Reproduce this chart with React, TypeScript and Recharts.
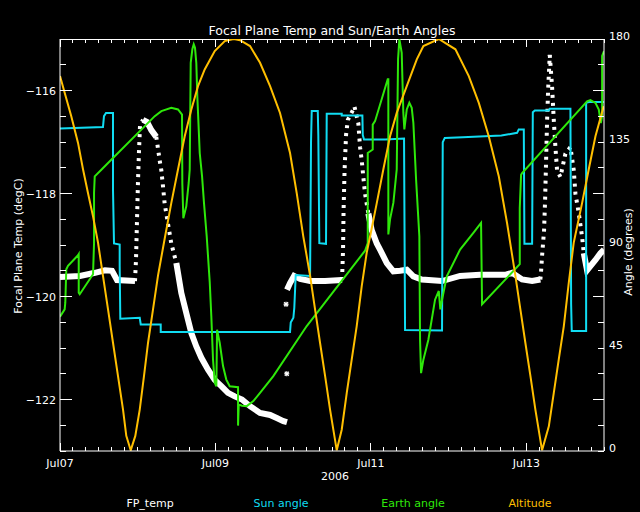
import { ComposedChart, Line, ReferenceLine, XAxis, YAxis } from "recharts";

type Pt = [number, number];

// time axis: days since Jul 07 2006 00:00
const dayLabels = ["Jul07", "Jul09", "Jul11", "Jul13"];
const timeTicks = Array.from({ length: 43 }, (_, i) => i / 6);
const tempTicks = Array.from({ length: 17 }, (_, i) => -123 + i * 0.5);
const angleTicks = Array.from({ length: 17 }, (_, i) => i * 11.25);

// FP_temp (degC) - dense parts drawn as a thick band, fast parts dotted
const fpSlow: Pt[][] = [
  [[0, -119.62], [0.257, -119.6], [0.45, -119.54], [0.579, -119.49], [0.669, -119.5], [0.734, -119.68], [0.965, -119.7]],
  [[1.068, -116.57], [1.12, -116.61], [1.175, -116.77], [1.239, -116.9]],
  [[1.497, -119.35], [1.561, -119.93], [1.625, -120.32], [1.69, -120.71], [1.754, -120.97], [1.819, -121.19], [1.905, -121.42], [1.991, -121.62], [2.076, -121.74], [2.162, -121.87], [2.248, -121.94], [2.342, -122.0], [2.445, -122.13], [2.574, -122.26], [2.703, -122.3], [2.789, -122.36], [2.874, -122.42], [2.921, -122.44]],
  [[2.921, -119.87], [2.96, -119.74], [3.012, -119.6], [3.089, -119.66], [3.218, -119.7], [3.411, -119.7], [3.629, -119.68]],
  [[3.968, -118.39], [4.011, -118.71], [4.076, -118.97], [4.118, -119.09], [4.205, -119.35], [4.29, -119.51], [4.376, -119.5], [4.462, -119.48], [4.547, -119.61], [4.655, -119.67], [4.916, -119.7], [5.148, -119.6], [5.405, -119.58], [5.727, -119.58], [5.817, -119.54], [5.946, -119.67], [6.075, -119.7], [6.181, -119.67]],
  [[6.74, -119.16], [6.782, -119.49], [6.825, -119.41], [6.89, -119.29], [6.954, -119.16], [7, -119.09]],
];

const fpFast: Pt[][] = [
  [[0.965, -119.7], [0.978, -119.29], [0.991, -118.51], [1.004, -117.74], [1.017, -117.16], [1.03, -116.67], [1.068, -116.57]],
  [[1.239, -116.9], [1.283, -117.36], [1.304, -117.55], [1.326, -117.87], [1.347, -118.2], [1.39, -118.59], [1.432, -118.97], [1.497, -119.35]],
  [[3.629, -119.68], [3.642, -119.1], [3.649, -118.32], [3.662, -117.54], [3.681, -116.86], [3.704, -116.57], [3.79, -116.32]],
  [[3.79, -116.32], [3.839, -116.64], [3.861, -117.1], [3.883, -117.36], [3.903, -117.68], [3.925, -118.0], [3.968, -118.39]],
  [[6.181, -119.67], [6.19, -119.52], [6.203, -119.21], [6.229, -118.71], [6.242, -118.13], [6.255, -117.35], [6.268, -116.57], [6.281, -115.99], [6.302, -115.31]],
  [[6.302, -115.31], [6.332, -115.93], [6.354, -116.58], [6.375, -117.1], [6.396, -117.55], [6.439, -117.68], [6.503, -117.23], [6.568, -117.1], [6.611, -117.55], [6.632, -118.0], [6.676, -118.39], [6.718, -118.84], [6.74, -119.16]],
];

const fpStray: Pt[] = [[2.909, -120.15], [2.918, -121.5]];

// Sun angle (deg)
const sunAngle: Pt[] = [
  [0, 140.9], [0.553, 141.5], [0.566, 146.3], [0.592, 147.7], [0.682, 147.7], [0.682, 113.9], [0.695, 90.7],
  [0.768, 90.2], [0.768, 81.0], [0.776, 57.8], [1.026, 58.2], [1.039, 55.3], [1.296, 55.3], [1.296, 52.0],
  [2.96, 52.0], [2.969, 56.1], [3.003, 58.2], [3.015, 62.6], [3.033, 76.9], [3.218, 76.5], [3.23, 134.9],
  [3.239, 148.5], [3.317, 148.5], [3.324, 138.0], [3.337, 90.8], [3.423, 90.5], [3.432, 147.3], [3.625, 147.3],
  [3.625, 146.6], [3.891, 146.6], [3.896, 138.0], [3.912, 136.1], [4.183, 136.1], [4.427, 136.5], [4.44, 52.9],
  [4.916, 52.7], [4.925, 134.9], [4.951, 136.8], [5.183, 137.1], [5.68, 137.8], [5.882, 139.0], [5.903, 140.5],
  [5.968, 140.5], [5.976, 90.5], [6.075, 90.5], [6.084, 148.0], [6.11, 148.8], [6.29, 148.8], [6.302, 149.5],
  [6.568, 149.5], [6.577, 64.1], [6.585, 52.4], [6.77, 52.4], [6.77, 152.1], [6.804, 152.5], [7, 152.5],
];

// Earth angle (deg)
const earthAngle: Pt[] = [
  [0, 58.7], [0.06, 61.9], [0.068, 64.8], [0.081, 79.4], [0.103, 80.9], [0.232, 85.5], [0.241, 86.0], [0.241, 69.2],
  [0.254, 68.5], [0.425, 77.2], [0.438, 90.8], [0.438, 112.7], [0.447, 120.0], [0.532, 122.9], [0.618, 125.8],
  [1.219, 146.3], [1.304, 148.5], [1.432, 149.9], [1.519, 149.2], [1.57, 147.0], [1.574, 117.1], [1.587, 101.7],
  [1.625, 106.9], [1.656, 117.1], [1.669, 122.9], [1.682, 169.6], [1.703, 175.5], [1.721, 177.7], [1.737, 176.2],
  [1.754, 169.6], [1.767, 155.0], [1.798, 130.2], [1.828, 120.0], [1.853, 108.3], [1.888, 93.7], [1.927, 73.6],
  [1.947, 59.0], [1.969, 40.0], [1.991, 29.8], [2.012, 28.3], [2.021, 53.0], [2.055, 47.3], [2.098, 37.1],
  [2.14, 31.2], [2.184, 28.3], [2.291, 27.9], [2.291, 11.1], [2.3, 20.3], [2.342, 19.8], [2.403, 19.6],
  [2.488, 21.8], [2.574, 25.4], [2.745, 32.7], [3.175, 54.6], [3.925, 87.5], [3.96, 90.8], [3.96, 130.2],
  [4.024, 131.7], [4.024, 142.6], [4.054, 144.1], [4.217, 162.4], [4.225, 162.4], [4.225, 94.6], [4.247, 101.2],
  [4.29, 108.5], [4.333, 123.1], [4.35, 171.2], [4.367, 179.9], [4.397, 174.0], [4.418, 147.7], [4.431, 140.5],
  [4.462, 149.2], [4.495, 152.1], [4.526, 149.9], [4.547, 143.3], [4.582, 118.6], [4.624, 93.7], [4.633, 48.6],
  [4.646, 34.0], [4.676, 39.9], [4.74, 48.6], [4.826, 66.1], [4.874, 69.9], [4.894, 61.9], [4.916, 66.1],
  [4.977, 76.3], [5.148, 88.0], [5.319, 95.3], [5.418, 99.7], [5.431, 64.1], [5.916, 81.6], [5.916, 106.1],
  [5.933, 120.7], [5.946, 121.4], [6.782, 152.8], [6.825, 153.3], [6.89, 152.1], [6.933, 149.2], [6.959, 143.3],
  [6.976, 146.3], [6.976, 172.6], [7, 174.7],
];

// Altitude (scaled to the angle axis)
const altitude: Pt[] = [
  [0, 163.8], [0.06, 156.5], [0.145, 146.3], [0.232, 134.6], [0.296, 123.1], [0.36, 112.7], [0.425, 102.5],
  [0.489, 91.1], [0.553, 76.5], [0.618, 61.9], [0.682, 47.3], [0.746, 32.8], [0.811, 18.1], [0.853, 6.6],
  [0.91, 0.3], [0.969, 6.6], [1.026, 18.1], [1.081, 32.8], [1.133, 47.3], [1.197, 61.9], [1.261, 76.6],
  [1.338, 91.1], [1.432, 108.3], [1.519, 123.1], [1.605, 137.5], [1.69, 149.2], [1.776, 159.4], [1.862, 166.7],
  [1.991, 174.7], [2.12, 179.1], [2.236, 180], [2.317, 179.5], [2.445, 176.9], [2.574, 169.6], [2.703, 159.4],
  [2.831, 147.7], [2.96, 130.2], [3.046, 112.7], [3.131, 93.7], [3.218, 76.6], [3.282, 61.9], [3.346, 47.3],
  [3.411, 32.8], [3.475, 18.1], [3.561, 0.3], [3.625, 9.3], [3.69, 25.4], [3.754, 40], [3.818, 54.6],
  [3.883, 72.1], [3.947, 86.7], [3.99, 93.7], [4.076, 108.3], [4.161, 123.1], [4.247, 137.5], [4.333, 147.7],
  [4.462, 159.4], [4.591, 171.1], [4.676, 176.9], [4.874, 180], [5.088, 175.5], [5.26, 163.8], [5.389, 152.1],
  [5.517, 137.5], [5.646, 120], [5.753, 99.5], [5.86, 76.5], [5.924, 61.9], [5.988, 47.3], [6.053, 32.8],
  [6.117, 18.1], [6.203, 0.3], [6.29, 10.8], [6.354, 25.4], [6.418, 40], [6.483, 54.6], [6.547, 73.6],
  [6.611, 91.1], [6.718, 108.3], [6.804, 123.1], [6.89, 137.5], [6.997, 150.7],
];

const WHITE = "#ffffff";
const CYAN = "#10dcf2";
const GREEN = "#2ee80a";
const ORANGE = "#ffbf00";
const FONT = "DejaVu Sans";
const PLOT_TOP = 39;

const rows = (pts: Pt[]) => pts.map(([t, v]) => ({ t, v }));
const isMultiple = (v: number, step: number) => Math.abs(v / step - Math.round(v / step)) < 1e-6;

function TimeTick({ x, y, payload }: any) {
  const v = payload.value as number;
  const major = isMultiple(v, 2);
  const len = major ? 8 : 4;
  return (
    <g>
      <line x1={x} x2={x} y1={y} y2={y - len} stroke={WHITE} shapeRendering="crispEdges" />
      <line x1={x} x2={x} y1={PLOT_TOP} y2={PLOT_TOP + len} stroke={WHITE} shapeRendering="crispEdges" />
      {major && (
        <text x={x} y={y + 12} textAnchor="middle" dominantBaseline="central" fill={WHITE} fontSize={11} fontFamily={FONT}>
          {dayLabels[Math.round(v / 2)]}
        </text>
      )}
    </g>
  );
}

function TempTick({ x, y, payload }: any) {
  const v = payload.value as number;
  const major = isMultiple(v, 2);
  return (
    <g>
      <line x1={x} x2={x + (major ? 12 : 6)} y1={y} y2={y} stroke={WHITE} shapeRendering="crispEdges" />
      {major && (
        <text x={x - 4} y={y + 1} textAnchor="end" dominantBaseline="central" fill={WHITE} fontSize={11} fontFamily={FONT}>
          {"\u2212" + Math.abs(v)}
        </text>
      )}
    </g>
  );
}

function AngleTick({ x, y, payload }: any) {
  const v = payload.value as number;
  const long = isMultiple(v - 22.5, 45);
  const labelled = isMultiple(v, 45);
  return (
    <g>
      <line x1={x} x2={x - (long ? 11 : 6)} y1={y} y2={y} stroke={WHITE} shapeRendering="crispEdges" />
      {labelled && (
        <text x={x + 5} y={y - 3} textAnchor="start" dominantBaseline="central" fill={WHITE} fontSize={11} fontFamily={FONT}>
          {v}
        </text>
      )}
    </g>
  );
}

function Asterisk({ cx, cy }: any) {
  if (cx == null || cy == null) return null;
  const r = 2.5;
  return (
    <g stroke={WHITE} strokeWidth={1.2}>
      <line x1={cx - r} x2={cx + r} y1={cy} y2={cy} />
      <line x1={cx} x2={cx} y1={cy - r} y2={cy + r} />
      <line x1={cx - 2} x2={cx + 2} y1={cy - 2} y2={cy + 2} />
      <line x1={cx - 2} x2={cx + 2} y1={cy + 2} y2={cy - 2} />
    </g>
  );
}

const legendItems = [
  { label: "FP_temp", color: WHITE, x: 150 },
  { label: "Sun angle", color: CYAN, x: 281 },
  { label: "Earth angle", color: GREEN, x: 413 },
  { label: "Altitude", color: ORANGE, x: 530 },
];

export default function App() {
  return (
    <div style={{ position: "absolute", left: 0, top: 0, width: 640, height: 512, background: "#000" }}>
      <ComposedChart width={640} height={512} margin={{ top: 39, right: 0, bottom: 0, left: 0 }}>
        <XAxis
          xAxisId="t"
          dataKey="t"
          type="number"
          domain={[0, 7]}
          allowDataOverflow
          ticks={timeTicks}
          interval={0}
          height={61}
          tickSize={0}
          tickMargin={0}
          tickLine={false}
          axisLine={{ stroke: WHITE }}
          tick={(p: any) => <TimeTick {...p} />}
        />
        <YAxis
          yAxisId="temp"
          orientation="left"
          type="number"
          width={60}
          domain={[-123, -115]}
          allowDataOverflow
          ticks={tempTicks}
          interval={0}
          tickSize={0}
          tickMargin={0}
          tickLine={false}
          axisLine={{ stroke: WHITE }}
          tick={(p: any) => <TempTick {...p} />}
        />
        <YAxis
          yAxisId="angle"
          orientation="right"
          type="number"
          width={36}
          domain={[0, 180]}
          allowDataOverflow
          ticks={angleTicks}
          interval={0}
          tickSize={0}
          tickMargin={0}
          tickLine={false}
          axisLine={{ stroke: WHITE }}
          tick={(p: any) => <AngleTick {...p} />}
        />
        <ReferenceLine xAxisId="t" yAxisId="temp" y={-115} stroke={WHITE} shapeRendering="crispEdges" />

        {fpSlow.map((seg, i) => (
          <Line
            key={`fps${i}`}
            xAxisId="t"
            yAxisId="temp"
            data={rows(seg)}
            dataKey="v"
            stroke={WHITE}
            strokeWidth={6}
            dot={false}
            isAnimationActive={false}
          />
        ))}
        {fpFast.map((seg, i) => (
          <Line
            key={`fpf${i}`}
            xAxisId="t"
            yAxisId="temp"
            data={rows(seg)}
            dataKey="v"
            stroke={WHITE}
            strokeWidth={4}
            strokeDasharray="3 5"
            dot={false}
            isAnimationActive={false}
          />
        ))}
        <Line
          xAxisId="t"
          yAxisId="temp"
          data={rows(fpStray)}
          dataKey="v"
          stroke="none"
          dot={(p: any) => <Asterisk key={p.index} cx={p.cx} cy={p.cy} />}
          isAnimationActive={false}
        />

        <Line xAxisId="t" yAxisId="angle" data={rows(sunAngle)} dataKey="v" stroke={CYAN} strokeWidth={2} dot={false} isAnimationActive={false} />
        <Line xAxisId="t" yAxisId="angle" data={rows(earthAngle)} dataKey="v" stroke={GREEN} strokeWidth={2} dot={false} isAnimationActive={false} />
        <Line xAxisId="t" yAxisId="angle" data={rows(altitude)} dataKey="v" stroke={ORANGE} strokeWidth={2} dot={false} isAnimationActive={false} />
      </ComposedChart>

      <svg width={640} height={512} style={{ position: "absolute", left: 0, top: 0, pointerEvents: "none" }} fontFamily={FONT}>
        <text x={332} y={30} textAnchor="middle" dominantBaseline="central" fill={WHITE} fontSize={12.5}>
          Focal Plane Temp and Sun/Earth Angles
        </text>
        <text x={18} y={246} textAnchor="middle" dominantBaseline="central" fill={WHITE} fontSize={11} transform="rotate(-90 18 246)">
          Focal Plane Temp (degC)
        </text>
        <text x={628} y={252} textAnchor="middle" dominantBaseline="central" fill={WHITE} fontSize={11} transform="rotate(-90 628 252)">
          Angle (degrees)
        </text>
        <text x={335} y={476} textAnchor="middle" dominantBaseline="central" fill={WHITE} fontSize={11}>
          2006
        </text>
        {legendItems.map((it) => (
          <text key={it.label} x={it.x} y={503} textAnchor="middle" dominantBaseline="central" fill={it.color} fontSize={11}>
            {it.label}
          </text>
        ))}
      </svg>
    </div>
  );
}
